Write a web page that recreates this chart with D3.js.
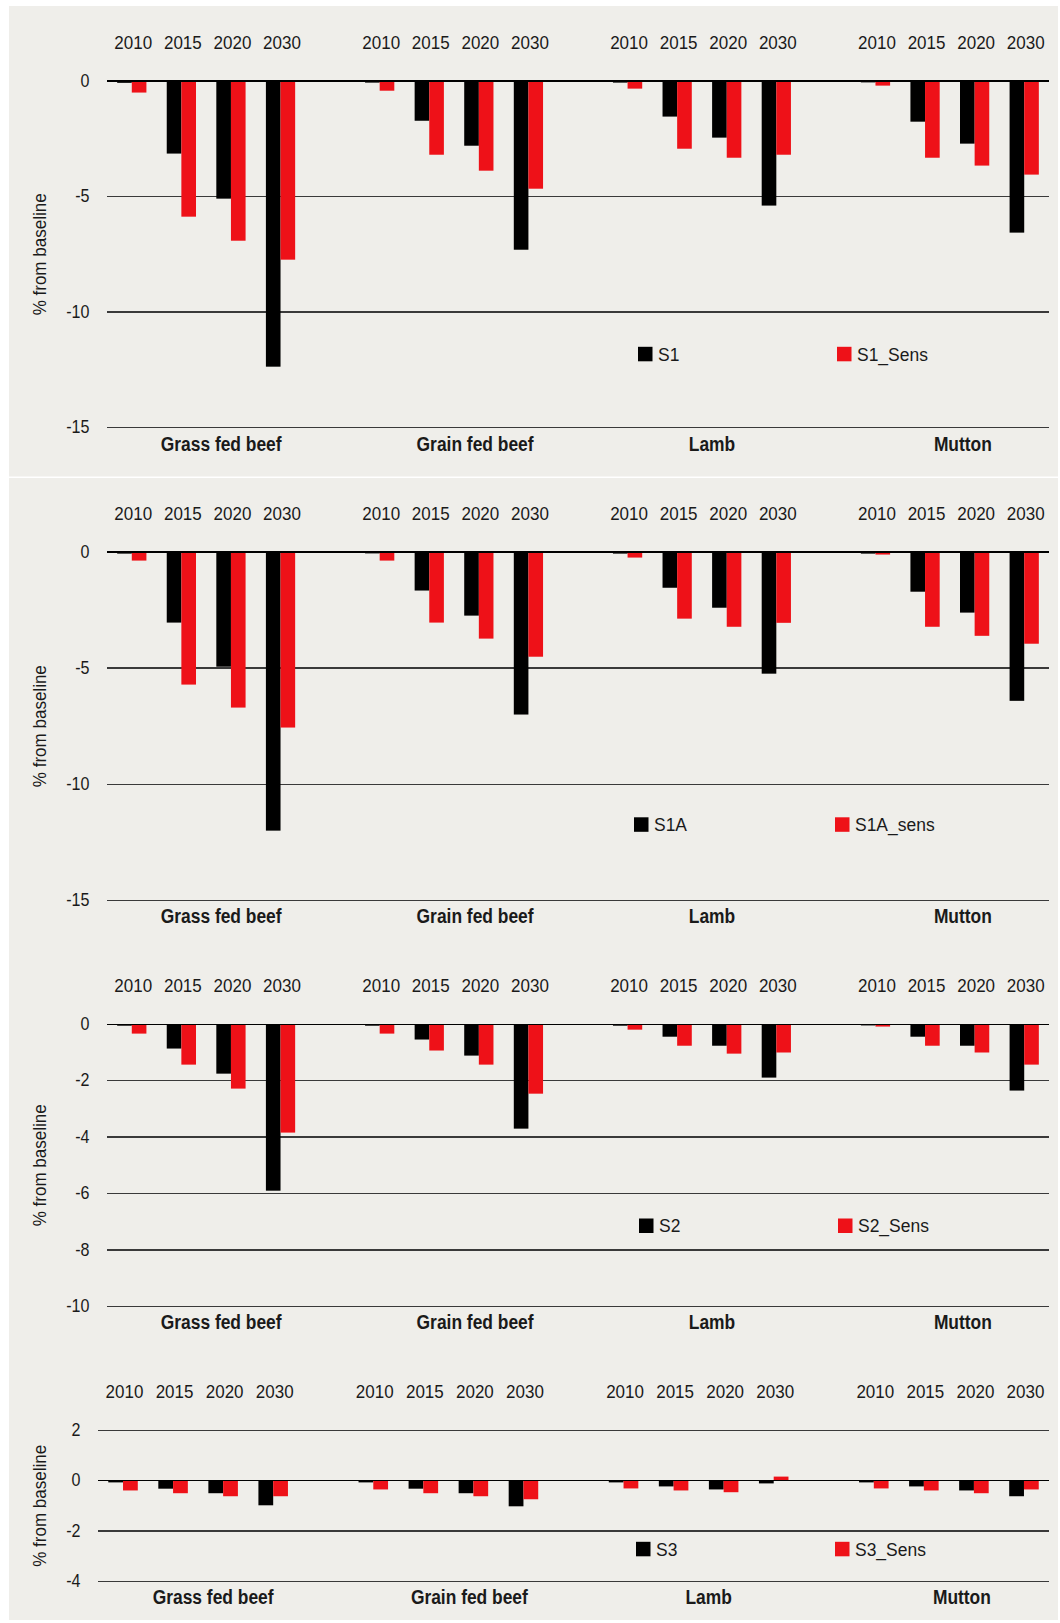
<!DOCTYPE html>
<html><head><meta charset="utf-8">
<script src="https://cdn.jsdelivr.net/npm/d3@7/dist/d3.min.js"></script>
<style>
body{margin:0;background:#fff}
svg{display:block}
text{font-family:"Liberation Sans",Arial,Helvetica,sans-serif;fill:#1a1a1a}
</style>
</head><body>
<svg id="chart" width="1060" height="1623"></svg>
<script>
// ---------------- DATA ----------------
const meats = ["Grass fed beef", "Grain fed beef", "Lamb", "Mutton"];
const years = ["2010", "2015", "2020", "2030"];
const yTitle = "% from baseline";

// values per meat, years 2010, 2015, 2020, 2030
const S1       = [[-0.08,-3.14,-5.09,-12.36],[-0.07,-1.72,-2.80,-7.30],[-0.07,-1.54,-2.45,-5.39],[-0.06,-1.76,-2.71,-6.56]];
const S1_Sens  = [[-0.50,-5.87,-6.91,-7.73],[-0.42,-3.19,-3.88,-4.66],[-0.33,-2.93,-3.32,-3.19],[-0.20,-3.32,-3.66,-4.05]];
const S1A      = [[-0.07,-3.04,-4.94,-12.00],[-0.06,-1.66,-2.74,-7.00],[-0.07,-1.54,-2.40,-5.24],[-0.07,-1.71,-2.61,-6.41]];
const S1A_sens = [[-0.37,-5.71,-6.70,-7.56],[-0.37,-3.04,-3.73,-4.51],[-0.24,-2.87,-3.22,-3.05],[-0.11,-3.22,-3.61,-3.95]];
const S2       = [[-0.05,-0.86,-1.75,-5.90],[-0.05,-0.54,-1.11,-3.70],[-0.05,-0.44,-0.76,-1.89],[-0.04,-0.44,-0.76,-2.35]];
const S2_Sens  = [[-0.33,-1.43,-2.28,-3.84],[-0.33,-0.93,-1.43,-2.46],[-0.19,-0.76,-1.04,-1.00],[-0.08,-0.76,-1.00,-1.43]];
const S3       = [[-0.07,-0.32,-0.50,-0.98],[-0.07,-0.32,-0.50,-1.02],[-0.07,-0.23,-0.35,-0.11],[-0.07,-0.23,-0.39,-0.62]];
const S3_Sens  = [[-0.39,-0.50,-0.62,-0.62],[-0.35,-0.50,-0.62,-0.74],[-0.31,-0.39,-0.46,0.16],[-0.31,-0.39,-0.50,-0.35]];

const seriesNames = [["S1","S1_Sens"],["S1A","S1A_sens"],["S2","S2_Sens"],["S3","S3_Sens"]];
const seriesData  = [[S1,S1_Sens],[S1A,S1A_sens],[S2,S2_Sens],[S3,S3_Sens]];
const tickValues  = [[0,-5,-10,-15],[0,-5,-10,-15],[0,-2,-4,-6,-8,-10],[2,0,-2,-4]];
const domains     = [[-15,0],[-15,0],[-10,0],[-4,2]];

// ---------------- LAYOUT ----------------
const colors = ["#000000", "#ee1118"];
const bgColor = "#efeeea";
const layout = [
  {top:81,    bottom:427.7,  x0:107, x1:1049, legendY:354},
  {top:552,   bottom:900.3,  x0:107, x1:1049, legendY:824.5},
  {top:1024.3,bottom:1306.3, x0:107, x1:1049, legendY:1225.7},
  {top:1430.3,bottom:1581.3, x0:98,  x1:1049, legendY:1549}
];
const catLabelShift = [15, 21, 10, 13];
const legendX = [[638, 837],[634, 835],[639, 838],[636, 835]];
const SX = 0.92; // horizontal condensing of text

const svg = d3.select("#chart");

// backgrounds
svg.append("rect").attr("x",9).attr("y",6).attr("width",1049).attr("height",470.5).attr("fill",bgColor);
svg.append("rect").attr("x",9).attr("y",478).attr("width",1049).attr("height",1142).attr("fill",bgColor);

function txt(g, x, y, s, opts) {
  opts = opts || {};
  const t = g.append("text")
    .attr("transform", `translate(${x},${y})` + (opts.rotate ? ` rotate(${opts.rotate})` : "") + ` scale(${opts.sx || SX},1)`)
    .attr("text-anchor", opts.anchor || "middle")
    .attr("font-size", opts.size || 18)
    .text(s);
  if (opts.weight) t.attr("font-weight", opts.weight);
  if (opts.dy) t.attr("dy", opts.dy);
  return t;
}

const nSlots = meats.length * (years.length + 1) - 1; // 19 slots incl. blanks

layout.forEach((L, p) => {
  const g = svg.append("g");
  const x = d3.scaleBand().domain(d3.range(nSlots)).range([L.x0, L.x1]).paddingInner(0).paddingOuter(0);
  const y = d3.scaleLinear().domain(domains[p]).range([L.bottom, L.top]);
  const sub = d3.scaleBand().domain([0,1]).range([0, x.bandwidth()*0.59]);
  const bw = sub.bandwidth();
  const slotOf = (m, j) => m * (years.length + 1) + j;

  // gridlines
  g.selectAll("line.grid").data(tickValues[p]).join("line")
    .attr("x1", L.x0).attr("x2", L.x1)
    .attr("y1", d => y(d)).attr("y2", d => y(d))
    .attr("stroke", d => d === 0 ? "#000" : "#3a3a3a")
    .attr("stroke-width", 1.3)
    .attr("shape-rendering", "crispEdges");

  // tick labels
  tickValues[p].forEach(v => {
    txt(g, L.x0 - 17.5, y(v), String(v), {anchor:"end", size:17.5, dy:"0.33em"});
  });

  // y title
  txt(g, 46, (L.top + L.bottom)/2, yTitle, {rotate:-90, size:18.5});

  // bars
  const bars = [];
  meats.forEach((m, mi) => years.forEach((yr, yi) => seriesData[p].forEach((s, si) => {
    bars.push({slot: slotOf(mi, yi), si, v: s[mi][yi]});
  })));
  g.selectAll("rect.bar").data(bars).join("rect")
    .attr("x", d => x(d.slot) + x.bandwidth()/2 - bw + sub(d.si))
    .attr("width", bw)
    .attr("y", d => Math.min(y(d.v), y(0)))
    .attr("height", d => Math.abs(y(d.v) - y(0)))
    .attr("fill", d => colors[d.si]);

  // zero line on top
  g.append("line").attr("x1", L.x0).attr("x2", L.x1).attr("y1", y(0)).attr("y2", y(0))
    .attr("stroke", "#000").attr("stroke-width", 1.3).attr("shape-rendering","crispEdges");

  // year labels
  meats.forEach((m, mi) => years.forEach((yr, yi) => {
    txt(g, x(slotOf(mi, yi)) + x.bandwidth()/2 + 1.5, L.top - 32, yr, {size:18.5});
  }));

  // category labels
  meats.forEach((m, mi) => {
    const cx = (x(slotOf(mi,0)) + x(slotOf(mi,3)) + x.bandwidth())/2 + catLabelShift[mi];
    txt(g, cx, L.bottom + 23, m, {size:20, weight:"bold", sx:0.87});
  });

  // legend
  seriesNames[p].forEach((nm, si) => {
    const lx = legendX[p][si];
    g.append("rect").attr("x", lx).attr("y", L.legendY - 7.2).attr("width", 14.5).attr("height", 14.5).attr("fill", colors[si]);
    txt(g, lx + 20, L.legendY, nm, {anchor:"start", size:19, dy:"0.35em"});
  });
});
</script>
</body></html>
